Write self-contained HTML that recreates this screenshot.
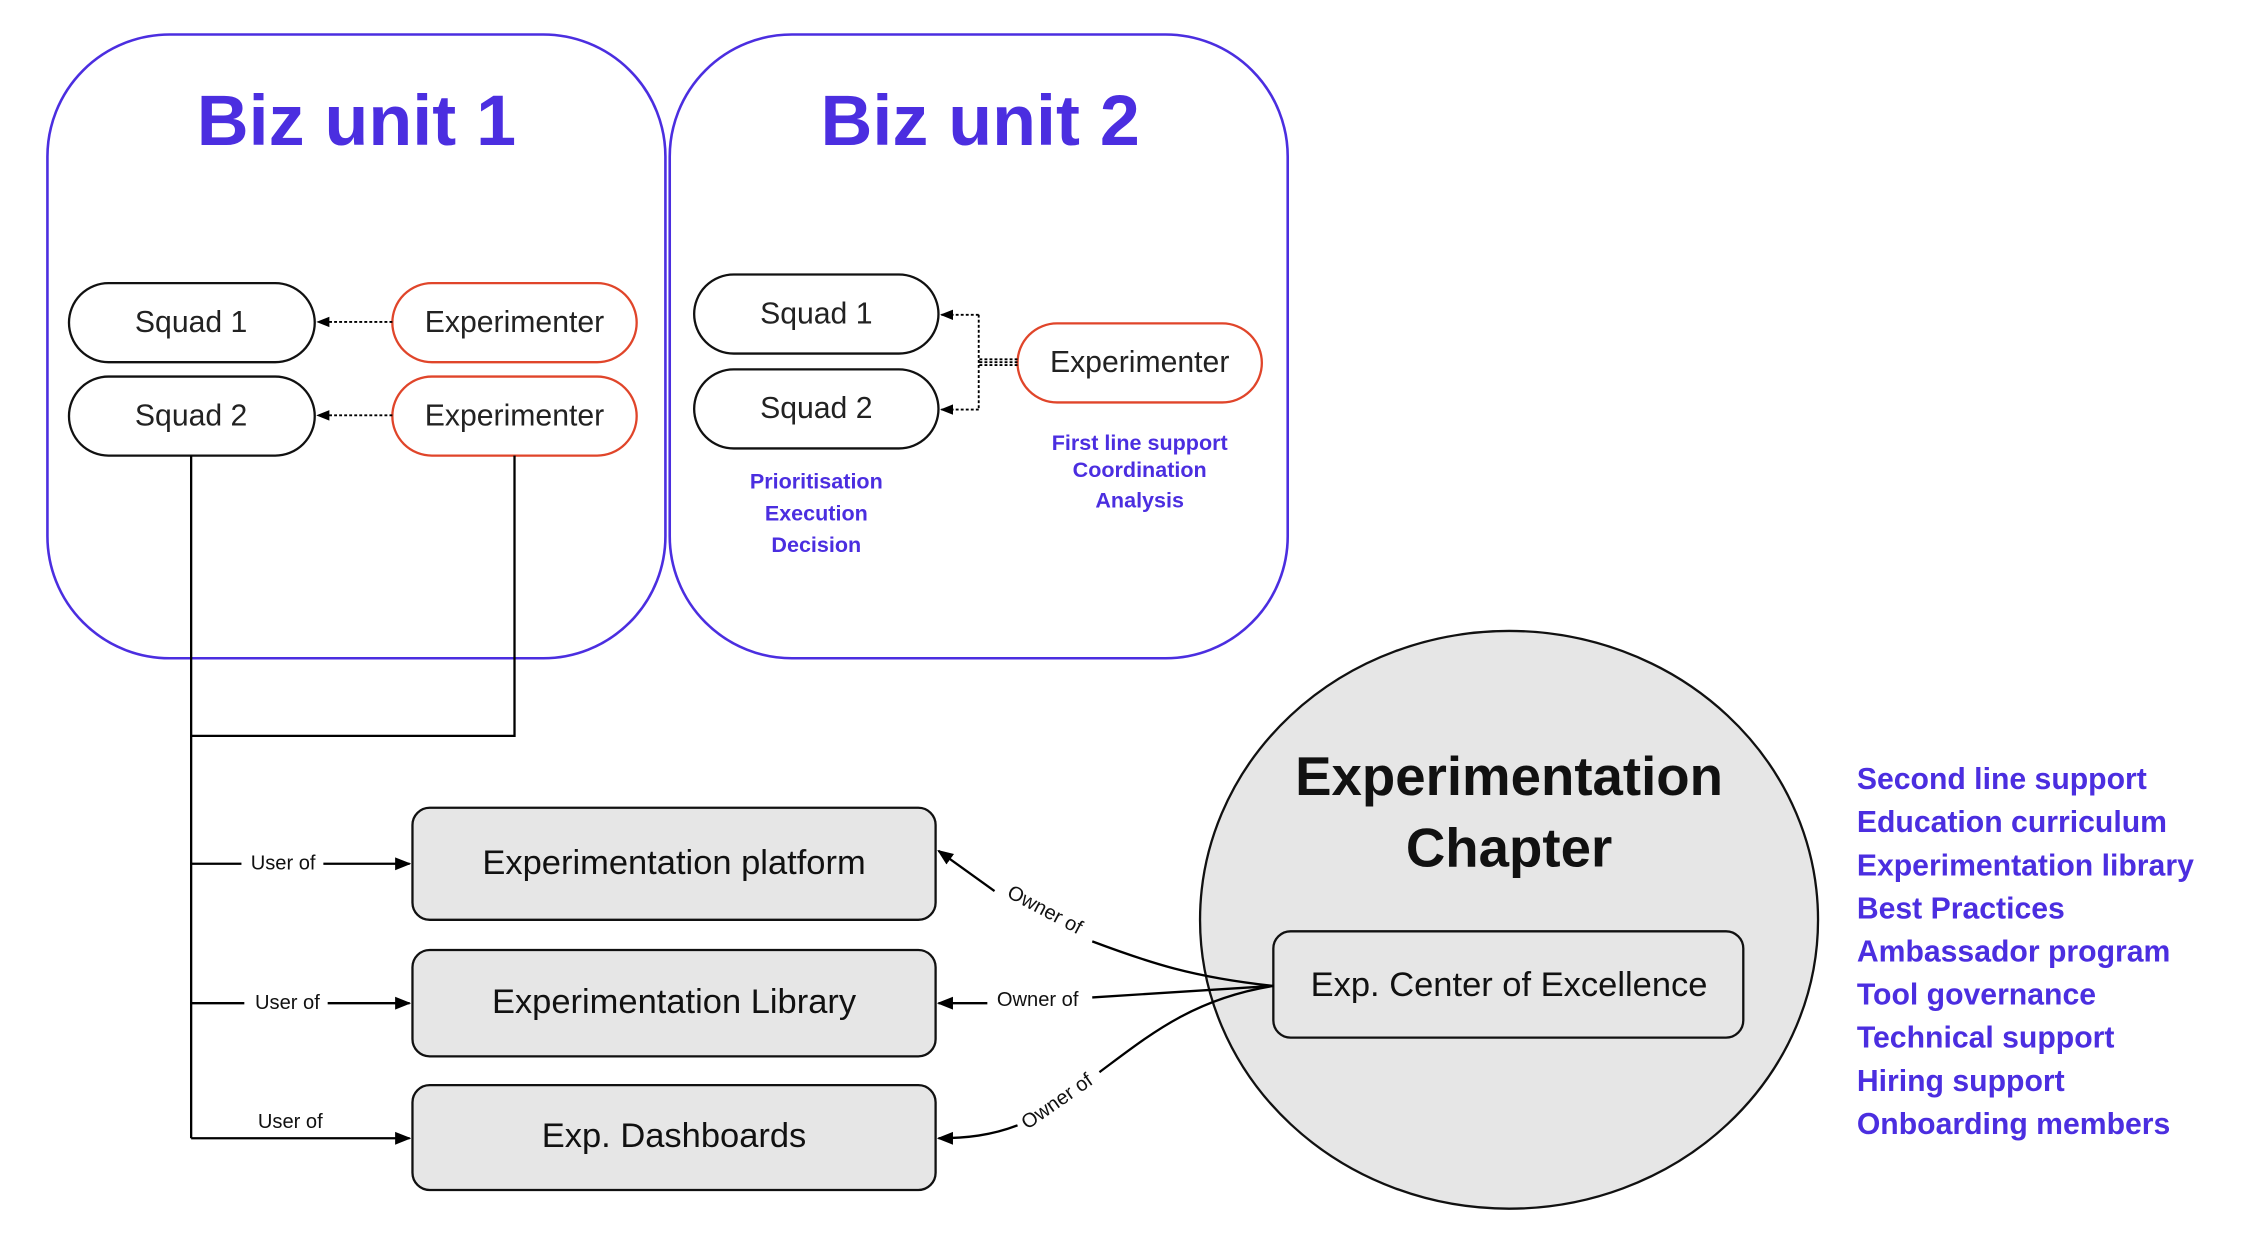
<!DOCTYPE html>
<html><head><meta charset="utf-8"><style>
html,body{margin:0;padding:0;background:#fff;}
svg{display:block;}
text{font-family:"Liberation Sans","DejaVu Sans",sans-serif;}
.p{fill:#4b2ee0;font-weight:bold;}
</style></head><body>
<svg width="2242" height="1234" viewBox="0 0 1560 858.6" xmlns="http://www.w3.org/2000/svg">
<defs>
<marker id="a" viewBox="0 0 10 10" refX="9" refY="5" markerWidth="7" markerHeight="7" orient="auto"><path d="M0,1 L10,5 L0,9 z" fill="#000"/></marker>
</defs>
<rect x="33" y="24" width="430" height="434" rx="85" fill="none" stroke="#4b2ee0" stroke-width="1.8"/>
<rect x="466" y="24" width="430" height="434" rx="85" fill="none" stroke="#4b2ee0" stroke-width="1.8"/>
<text x="248" y="101" text-anchor="middle" class="p" font-size="50">Biz unit 1</text>
<text x="682" y="101" text-anchor="middle" class="p" font-size="50">Biz unit 2</text>

<g font-size="21" fill="#222" text-anchor="middle">
<rect x="48" y="197" width="171" height="55" rx="27.5" fill="#fff" stroke="#111" stroke-width="1.6"/>
<text x="133" y="231">Squad 1</text>
<rect x="48" y="262" width="171" height="55" rx="27.5" fill="#fff" stroke="#111" stroke-width="1.6"/>
<text x="133" y="296">Squad 2</text>
<rect x="273" y="197" width="170" height="55" rx="27.5" fill="#fff" stroke="#e0452a" stroke-width="1.6"/>
<text x="358" y="231">Experimenter</text>
<rect x="273" y="262" width="170" height="55" rx="27.5" fill="#fff" stroke="#e0452a" stroke-width="1.6"/>
<text x="358" y="296">Experimenter</text>

<rect x="483" y="191" width="170" height="55" rx="27.5" fill="#fff" stroke="#111" stroke-width="1.6"/>
<text x="568" y="225">Squad 1</text>
<rect x="483" y="257" width="170" height="55" rx="27.5" fill="#fff" stroke="#111" stroke-width="1.6"/>
<text x="568" y="291">Squad 2</text>
<rect x="708" y="225" width="170" height="55" rx="27.5" fill="#fff" stroke="#e0452a" stroke-width="1.6"/>
<text x="793" y="259">Experimenter</text>
</g>
<g stroke="#000" stroke-width="1.3" stroke-dasharray="2,1.5" fill="none">
<path d="M273,224 L221,224" marker-end="url(#a)"/>
<path d="M273,289 L221,289" marker-end="url(#a)"/>
<path d="M708,252 L681,252 M681,219 L681,285"/>
<path d="M708,250 L681,250 M708,254 L681,254"/>
<path d="M681,219 L655,219" marker-end="url(#a)"/>
<path d="M681,285 L655,285" marker-end="url(#a)"/>
</g>
<g font-size="15" text-anchor="middle" class="p">
<text x="568" y="340">Prioritisation</text>
<text x="568" y="362">Execution</text>
<text x="568" y="384">Decision</text>
<text x="793" y="313">First line support</text>
<text x="793" y="332">Coordination</text>
<text x="793" y="353">Analysis</text>
</g>

<g stroke="#000" stroke-width="1.6" fill="none">
<path d="M133,317 L133,792"/>
<path d="M358,317 L358,512 L133,512"/>
<path d="M133,601 L168,601 M225,601 L285,601" marker-end="url(#a)"/>
<path d="M133,698 L170,698 M228,698 L285,698" marker-end="url(#a)"/>
<path d="M133,792 L285,792" marker-end="url(#a)"/>
</g>
<g font-size="14" fill="#111" text-anchor="middle">
<text x="197" y="605">User of</text>
<text x="200" y="702">User of</text>
<text x="202" y="785">User of</text>
</g>

<g font-size="24" fill="#111" text-anchor="middle">
<rect x="287" y="562" width="364" height="78" rx="12" fill="#e6e6e6" stroke="#111" stroke-width="1.6"/>
<text x="469" y="608">Experimentation platform</text>
<rect x="287" y="661" width="364" height="74" rx="12" fill="#e6e6e6" stroke="#111" stroke-width="1.6"/>
<text x="469" y="705">Experimentation Library</text>
<rect x="287" y="755" width="364" height="73" rx="12" fill="#e6e6e6" stroke="#111" stroke-width="1.6"/>
<text x="469" y="798">Exp. Dashboards</text>
</g>

<ellipse cx="1050" cy="640" rx="215" ry="201" fill="#e6e6e6" stroke="#111" stroke-width="1.6"/>
<text x="1050" y="553" text-anchor="middle" font-size="38" font-weight="bold" fill="#111">Experimentation</text>
<text x="1050" y="603" text-anchor="middle" font-size="38" font-weight="bold" fill="#111">Chapter</text>
<rect x="886" y="648" width="327" height="74" rx="12" fill="#e6e6e6" stroke="#111" stroke-width="1.6"/>
<text x="1050" y="693" text-anchor="middle" font-size="24" fill="#111">Exp. Center of Excellence</text>

<g stroke="#000" stroke-width="1.6" fill="none">
<path d="M886,686 C830,680 800,670 760,655" />
<path d="M692,620 L653,592" marker-end="url(#a)"/>
<path d="M886,686 L760,694"/>
<path d="M687,698 L653,698" marker-end="url(#a)"/>
<path d="M886,686 C830,695 800,720 765,746"/>
<path d="M708,783 C690,790 672,792 653,792" marker-end="url(#a)"/>
</g>
<g font-size="14" fill="#111" text-anchor="middle">
<text transform="translate(725,637) rotate(28)">Owner of</text>
<text x="722" y="700">Owner of</text>
<text transform="translate(738,770) rotate(-35)">Owner of</text>
</g>

<g font-size="21" class="p">
<text x="1292" y="549">Second line support</text>
<text x="1292" y="579">Education curriculum</text>
<text x="1292" y="609">Experimentation library</text>
<text x="1292" y="639">Best Practices</text>
<text x="1292" y="669">Ambassador program</text>
<text x="1292" y="699">Tool governance</text>
<text x="1292" y="729">Technical support</text>
<text x="1292" y="759">Hiring support</text>
<text x="1292" y="789">Onboarding members</text>
</g>
</svg>
</body></html>
